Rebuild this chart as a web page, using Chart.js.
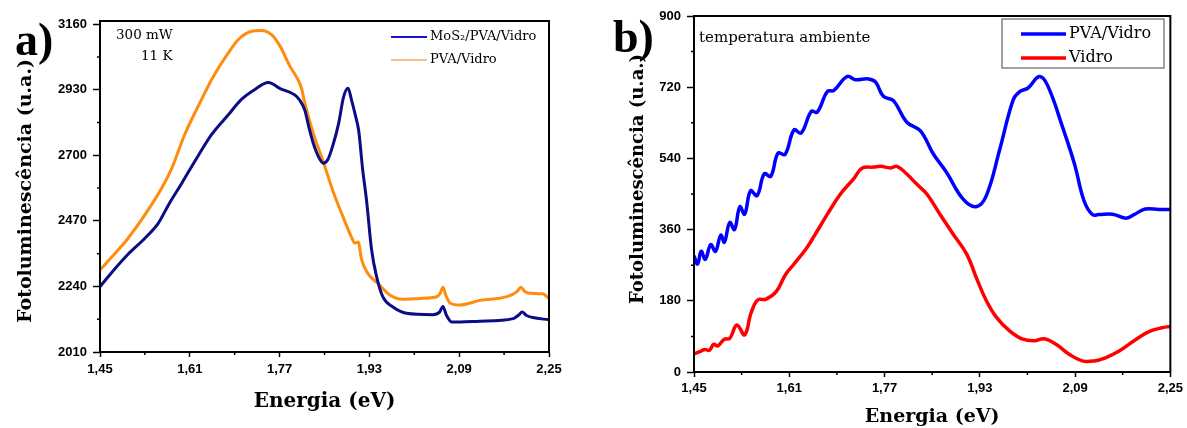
<!DOCTYPE html>
<html>
<head>
<meta charset="utf-8">
<script src="https://cdn.jsdelivr.net/npm/chart.js@4/dist/chart.umd.min.js"></script>
<style>
  body { margin: 0; background: #fff; }
  canvas { position: absolute; top: 0; }
  #plotA { left: 0; }
  #plotB { left: 594px; }
</style>
</head>
<body>
<canvas id="plotA" width="593" height="428"></canvas>
<canvas id="plotB" width="593" height="428"></canvas>
<script>
// ---- (a) 11 K, 300 mW ----
const energyMos2 = [1.450, 1.477, 1.500, 1.530, 1.554, 1.572, 1.596, 1.619, 1.649, 1.679,
  1.702, 1.726, 1.750, 1.771, 1.797, 1.806, 1.815, 1.822, 1.830, 1.840,
  1.848, 1.856, 1.865, 1.875, 1.884, 1.892, 1.898, 1.905, 1.911, 1.918,
  1.925, 1.934, 1.943, 1.954, 1.972, 1.996, 2.043, 2.055, 2.061, 2.067,
  2.077, 2.127, 2.186, 2.196, 2.202, 2.210, 2.221, 2.250];
const plMos2 = [2239, 2303, 2353, 2409, 2462, 2526, 2603, 2679, 2773, 2843,
  2896, 2931, 2955, 2934, 2912, 2893, 2858, 2800, 2742, 2692,
  2672, 2685, 2735, 2810, 2905, 2935, 2895, 2840, 2785, 2650,
  2540, 2367, 2273, 2203, 2168, 2146, 2141, 2150, 2170, 2140,
  2115, 2118, 2127, 2140, 2150, 2138, 2131, 2123];

const energyPva11K = [1.450, 1.477, 1.500, 1.530, 1.560, 1.578, 1.601, 1.631, 1.649, 1.679,
  1.697, 1.720, 1.738, 1.756, 1.771, 1.789, 1.800, 1.809, 1.815, 1.830,
  1.847, 1.865, 1.883, 1.898, 1.904, 1.910, 1.916, 1.927, 1.945, 1.967,
  1.990, 2.020, 2.050, 2.056, 2.061, 2.066, 2.074, 2.091, 2.127, 2.175,
  2.193, 2.200, 2.207, 2.216, 2.239, 2.250];
const plPva11K = [2298, 2356, 2409, 2491, 2585, 2655, 2773, 2896, 2966, 3060,
  3107, 3135, 3138, 3122, 3082, 3010, 2975, 2935, 2882, 2777,
  2682, 2575, 2484, 2413, 2392, 2396, 2335, 2286, 2251, 2209,
  2195, 2198, 2204, 2215, 2237, 2210, 2181, 2175, 2191, 2204,
  2222, 2237, 2222, 2216, 2214, 2198];

const xTicksA = [1.45, 1.61, 1.77, 1.93, 2.09, 2.25];
const yTicksA = [2010, 2240, 2470, 2700, 2930, 3160];

// ---- (b) temperatura ambiente ----
const energyPvaRT = [1.450, 1.456, 1.462, 1.469, 1.478, 1.486, 1.495, 1.501, 1.510, 1.518,
  1.527, 1.535, 1.545, 1.556, 1.568, 1.579, 1.591, 1.603, 1.618, 1.630,
  1.647, 1.657, 1.674, 1.685, 1.707, 1.721, 1.743, 1.755, 1.768, 1.785,
  1.807, 1.830, 1.852, 1.874, 1.902, 1.924, 1.941, 1.963, 1.986, 1.997,
  2.011, 2.030, 2.044, 2.069, 2.089, 2.105, 2.119, 2.130, 2.153, 2.175,
  2.189, 2.208, 2.231, 2.250];
const plPvaRT = [294, 273, 305, 285, 322, 305, 346, 328, 378, 360,
  418, 399, 458, 446, 501, 495, 553, 550, 612, 604,
  659, 657, 709, 712, 747, 739, 741, 733, 697, 686,
  632, 610, 551, 505, 437, 418, 446, 560, 688, 709,
  718, 747, 724, 619, 526, 433, 398, 398, 399, 389,
  398, 412, 411, 411];

const energyVidro = [1.450, 1.462, 1.468, 1.476, 1.483, 1.490, 1.501, 1.510, 1.522, 1.535,
  1.546, 1.557, 1.571, 1.588, 1.604, 1.618, 1.638, 1.652, 1.674, 1.696,
  1.718, 1.732, 1.752, 1.763, 1.780, 1.791, 1.807, 1.824, 1.841, 1.863,
  1.885, 1.908, 1.924, 1.941, 1.958, 1.980, 2.002, 2.022, 2.038, 2.058,
  2.080, 2.102, 2.122, 2.141, 2.164, 2.189, 2.214, 2.236, 2.250];
const plVidro = [46, 53, 57, 55, 70, 66, 83, 85, 119, 94,
  150, 182, 184, 203, 247, 273, 311, 344, 399, 450,
  488, 515, 518, 520, 516, 520, 501, 475, 450, 399,
  349, 298, 239, 180, 138, 104, 83, 79, 84, 70,
  45, 28, 28, 36, 53, 79, 102, 112, 115];

const xTicksB = [1.45, 1.61, 1.77, 1.93, 2.09, 2.25];
const yTicksB = [0, 180, 360, 540, 720, 900];

const pts = (xs, ys) => xs.map((x, i) => ({x: x, y: ys[i]}));
const halfway = t => t.slice(1).map((v, i) => (v + t[i]) / 2);

const tickFont = {family: '"Liberation Sans", Arial, sans-serif', weight: 'bold', size: 13};
const serif = '"DejaVu Serif", serif';

// closed frame, minor ticks, y title, text notes and the small legend inside the plot
const decor = {
  id: 'decor',
  afterDraw(chart, args, o) {
    const {ctx, chartArea: ca} = chart;
    const xs = chart.scales.x, ys = chart.scales.y;
    ctx.save();
    ctx.strokeStyle = '#000';
    ctx.lineWidth = o.frame;
    ctx.strokeRect(ca.left, ca.top, ca.right - ca.left, ca.bottom - ca.top);

    ctx.lineWidth = 1.5;
    ctx.beginPath();
    halfway(o.xTicks).forEach(v => {
      const px = xs.getPixelForValue(v);
      ctx.moveTo(px, ca.bottom);
      ctx.lineTo(px, ca.bottom + o.minor);
    });
    halfway(o.yTicks).forEach(v => {
      const py = ys.getPixelForValue(v);
      ctx.moveTo(ca.left, py);
      ctx.lineTo(ca.left - o.minor, py);
    });
    ctx.stroke();

    ctx.fillStyle = '#000';
    const t = o.yTitle;
    ctx.save();
    ctx.translate(t.x, t.y);
    ctx.rotate(-Math.PI / 2);
    ctx.font = t.font;
    ctx.textAlign = 'center';
    ctx.textBaseline = 'middle';
    ctx.fillText('Fotoluminescência (u.a.)', 0, 0);
    ctx.restore();

    o.notes.forEach(n => {
      ctx.font = n.font;
      ctx.textAlign = 'left';
      ctx.textBaseline = n.baseline || 'middle';
      ctx.fillText(n.text, n.x, n.y);
    });

    const lg = o.legend;
    if (lg.box) {
      ctx.strokeStyle = '#666';
      ctx.lineWidth = 1.2;
      ctx.strokeRect(lg.box[0], lg.box[1], lg.box[2], lg.box[3]);
    }
    lg.rows.forEach((r, i) => {
      const ds = chart.data.datasets[i];
      ctx.strokeStyle = r.color || ds.borderColor;
      ctx.lineWidth = lg.lineWidth;
      ctx.beginPath();
      ctx.moveTo(lg.x1, r.y);
      ctx.lineTo(lg.x2, r.y);
      ctx.stroke();
      ctx.fillStyle = '#000';
      ctx.font = lg.font;
      ctx.textAlign = 'left';
      ctx.textBaseline = 'middle';
      ctx.fillText(ds.label, lg.textX, r.y);
    });
    ctx.restore();
  }
};

function buildChart(id, cfg) {
  return new Chart(document.getElementById(id), {
    type: 'line',
    data: {datasets: cfg.datasets},
    options: {
      responsive: false,
      animation: false,
      layout: {padding: cfg.padding},
      elements: {point: {radius: 0}},
      plugins: {legend: {display: false}, tooltip: {enabled: false}, decor: cfg.decor},
      scales: {
        x: {
          type: 'linear', min: 1.45, max: 2.25,
          afterBuildTicks: s => { s.ticks = cfg.xTicks.map(v => ({value: v})); },
          afterFit: s => { s.height = cfg.xHeight; },
          grid: {drawOnChartArea: false, tickLength: 5, tickWidth: 1.5, tickColor: '#000'},
          border: {color: '#000', width: 2},
          ticks: {color: '#000', font: tickFont, padding: cfg.xPad, autoSkip: false, maxRotation: 0,
            callback: v => v.toFixed(2).replace('.', ',')},
          title: {display: true, text: 'Energia (eV)', color: '#000',
            font: {family: serif, weight: 'bold', size: cfg.titleSize}, padding: {top: 0, bottom: cfg.xTitlePad}}
        },
        y: {
          type: 'linear', min: cfg.yMin, max: cfg.yMax,
          afterBuildTicks: s => { s.ticks = cfg.yTicks.map(v => ({value: v})); },
          afterFit: s => { s.width = 100; },
          grid: {drawOnChartArea: false, tickLength: 7, tickWidth: 1.5, tickColor: '#000'},
          border: {color: '#000', width: 2},
          ticks: {color: '#000', font: tickFont, padding: 6, autoSkip: false, callback: v => String(v)}
        }
      }
    },
    plugins: [decor]
  });
}

buildChart('plotA', {
  datasets: [
    {label: 'MoS₂/PVA/Vidro', data: pts(energyMos2, plMos2), borderColor: '#0c0c86', borderWidth: 3,
      cubicInterpolationMode: 'monotone'},
    {label: 'PVA/Vidro', data: pts(energyPva11K, plPva11K), borderColor: '#ff8c0c', borderWidth: 3,
      cubicInterpolationMode: 'monotone'}
  ],
  padding: {left: 0, right: 44, top: 21, bottom: 0},
  xTicks: xTicksA, yTicks: yTicksA, yMin: 2010, yMax: 3171,
  xHeight: 76, xPad: 5, xTitlePad: 14, titleSize: 20,
  decor: {
    frame: 2, minor: 3, xTicks: xTicksA, yTicks: yTicksA,
    yTitle: {x: 26, y: 191, font: 'bold 19px ' + serif},
    notes: [
      {text: 'a)', x: 15, y: 55, baseline: 'alphabetic', font: 'bold 46px "Liberation Serif", serif'},
      {text: '300 mW', x: 116, y: 35, font: '13.5px ' + serif},
      {text: '11 K', x: 141, y: 56, font: '13.5px ' + serif}
    ],
    legend: {
      x1: 391, x2: 427, textX: 430, lineWidth: 2, font: '13px ' + serif,
      rows: [{y: 37, color: '#1414c8'}, {y: 60, color: '#f6c488'}]
    }
  }
});

buildChart('plotB', {
  datasets: [
    {label: 'PVA/Vidro', data: pts(energyPvaRT, plPvaRT), borderColor: '#0000ff', borderWidth: 3.5,
      tension: 0.4},
    {label: 'Vidro', data: pts(energyVidro, plVidro), borderColor: '#ff0000', borderWidth: 3.5,
      tension: 0.4}
  ],
  padding: {left: 0, right: 14, top: 16, bottom: 0},
  xTicks: xTicksB, yTicks: yTicksB, yMin: 0, yMax: 900,
  xHeight: 56, xPad: 4, xTitlePad: 0, titleSize: 19,
  decor: {
    frame: 2, minor: 3, xTicks: xTicksB, yTicks: yTicksB,
    yTitle: {x: 44, y: 179, font: 'bold 18px ' + serif},
    notes: [
      {text: 'b)', x: 19, y: 52, baseline: 'alphabetic', font: 'bold 46px "Liberation Serif", serif'},
      {text: 'temperatura ambiente', x: 105, y: 38, font: '15px ' + serif}
    ],
    legend: {
      box: [408, 19, 162, 49],
      x1: 427, x2: 472, textX: 475, lineWidth: 3.5, font: '16px ' + serif,
      rows: [{y: 34}, {y: 58}]
    }
  }
});
</script>
</body>
</html>
